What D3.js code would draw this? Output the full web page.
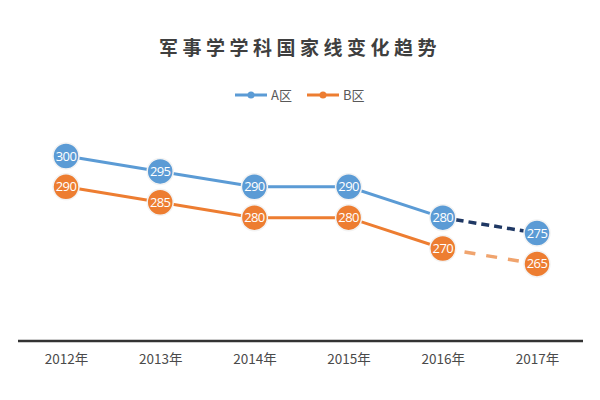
<!DOCTYPE html>
<html>
<head>
<meta charset="utf-8">
<script src="https://cdn.jsdelivr.net/npm/d3@7"></script>
<style>
  body { margin: 0; background: #fff; }
  text { font-family: "Noto Sans CJK SC", "Noto Sans", sans-serif; }
</style>
</head>
<body>
<div id="chart"></div>
<script>
var years = ['2012年', '2013年', '2014年', '2015年', '2016年', '2017年'];
var seriesA = [300, 295, 290, 290, 280, 275];
var seriesB = [290, 285, 280, 280, 270, 265];
var seriesNames = ['A区', 'B区'];
var colors = ['#5b9bd5', '#ed7d31'];
var dashColors = ['#1f3864', '#f0a46e'];

var width = 600, height = 400;

var svg = d3.select('#chart').append('svg')
  .attr('width', width)
  .attr('height', height);

var x = d3.scalePoint().domain(years).range([66, 537]);
var y = d3.scaleLinear().domain([240, 300]).range([341, 156]);

// title
svg.append('text')
  .attr('x', 300).attr('y', 55)
  .attr('text-anchor', 'middle')
  .attr('font-size', 19)
  .attr('font-weight', 'bold')
  .attr('letter-spacing', 4.5)
  .attr('fill', '#3f3f3f')
  .text('军事学学科国家线变化趋势');

// legend
var legend = [{x: 235, name: seriesNames[0], c: colors[0]}, {x: 307, name: seriesNames[1], c: colors[1]}];
legend.forEach(function(l) {
  var g = svg.append('g');
  g.append('line')
    .attr('x1', l.x).attr('x2', l.x + 32)
    .attr('y1', 95).attr('y2', 95)
    .attr('stroke', l.c).attr('stroke-width', 3);
  g.append('circle')
    .attr('cx', l.x + 16).attr('cy', 95).attr('r', 3.5)
    .attr('fill', l.c);
  g.append('text')
    .attr('x', l.x + 36).attr('y', 100)
    .attr('font-size', 13)
    .attr('fill', '#595959')
    .text(l.name);
});

// x axis
var axis = d3.axisBottom(x).tickSize(0).tickPadding(13);
var ax = svg.append('g')
  .attr('transform', 'translate(0,341)')
  .call(axis);
ax.select('.domain').remove();
ax.append('line')
  .attr('x1', 18).attr('x2', 583)
  .attr('stroke', '#333').attr('stroke-width', 2.5);
ax.selectAll('.tick text')
  .attr('font-size', 13.5)
  .attr('font-weight', 'normal')
  .attr('fill', '#4a4a4a')
  .style('font-family', '"Noto Sans CJK SC", sans-serif');

var line = d3.line()
  .x(function(d) { return x(d.year); })
  .y(function(d) { return y(d.v); });

[seriesA, seriesB].forEach(function(vals, si) {
  var pts = vals.map(function(v, i) { return {year: years[i], v: v}; });
  svg.append('path')
    .datum(pts.slice(0, 5))
    .attr('d', line)
    .attr('fill', 'none')
    .attr('stroke', colors[si])
    .attr('stroke-width', 3);
  svg.append('path')
    .datum(pts.slice(4))
    .attr('d', line)
    .attr('fill', 'none')
    .attr('stroke', dashColors[si])
    .attr('stroke-width', 3.5)
    .attr('stroke-dasharray', si == 0 ? '8,5' : '11,11');

  var g = svg.append('g');
  g.selectAll('circle')
    .data(pts)
    .enter().append('circle')
    .attr('cx', function(d) { return x(d.year); })
    .attr('cy', function(d) { return y(d.v); })
    .attr('r', 13)
    .attr('fill', colors[si])
    .attr('stroke', '#f3f3f3')
    .attr('stroke-width', 1.5);
  g.selectAll('text')
    .data(pts)
    .enter().append('text')
    .attr('x', function(d) { return x(d.year); })
    .attr('y', function(d) { return y(d.v) + 4.5; })
    .attr('text-anchor', 'middle')
    .attr('font-size', 13)
    .attr('letter-spacing', -0.6)
    .attr('fill', '#fff')
    .style('font-family', '"Open Sans", sans-serif')
    .text(function(d) { return d.v; });
});
</script>
</body>
</html>
